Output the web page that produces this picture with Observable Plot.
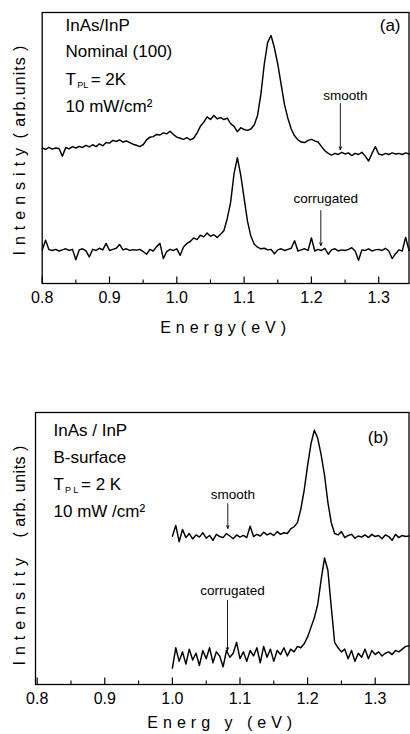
<!DOCTYPE html>
<html><head><meta charset="utf-8">
<script src="https://cdn.jsdelivr.net/npm/d3@7"></script>
<script src="https://cdn.jsdelivr.net/npm/@observablehq/plot@0.6"></script>
<style>
html,body{margin:0;padding:0;background:#fff;}
#chart{width:410px;height:734px;position:relative;overflow:hidden;}
#chart svg{display:block;}
</style></head><body><div id="chart"></div>
<script>
// ---------- data ----------
const energyA = [
0.800,0.805,0.810,0.815,0.820,0.825,0.830,0.835,0.840,0.845,
0.850,0.855,0.860,0.865,0.870,0.875,0.880,0.885,0.890,0.895,
0.900,0.905,0.910,0.915,0.920,0.925,0.930,0.935,0.940,0.945,
0.950,0.955,0.960,0.965,0.970,0.975,0.980,0.985,0.990,0.995,
1.000,1.005,1.010,1.015,1.020,1.025,1.030,1.035,1.040,1.045,
1.050,1.055,1.060,1.065,1.070,1.075,1.080,1.085,1.090,1.095,
1.100,1.105,1.110,1.115,1.120,1.125,1.130,1.135,1.140,1.145,
1.150,1.155,1.160,1.165,1.170,1.175,1.180,1.185,1.190,1.195,
1.200,1.205,1.210,1.215,1.220,1.225,1.230,1.235,1.240,1.245,
1.250,1.255,1.260,1.265,1.270,1.275,1.280,1.285,1.290,1.295,
1.300,1.305,1.310,1.315,1.320,1.325,1.330,1.335,1.340,1.345];
const smoothA = [
5.00,4.95,5.02,4.96,5.00,4.98,4.70,5.02,4.97,5.05,
5.00,5.06,5.02,5.10,5.04,5.12,5.05,5.15,5.08,5.20,
5.18,5.28,5.24,5.30,5.22,5.26,5.20,5.14,5.10,5.05,
5.12,5.30,5.40,5.42,5.50,5.48,5.56,5.52,5.62,5.50,
5.40,5.36,5.32,5.38,5.30,5.36,5.55,5.80,5.95,6.15,
6.05,6.20,6.08,6.12,6.05,6.10,5.90,5.80,5.60,5.75,
5.68,5.65,5.70,5.85,6.20,7.00,8.10,8.90,9.15,8.70,
8.10,7.35,6.60,6.10,5.70,5.45,5.30,5.22,5.20,5.28,
5.32,5.26,5.22,5.05,4.90,4.80,4.74,4.80,4.76,4.84,
4.78,4.82,4.72,4.80,4.76,4.84,4.70,4.52,4.80,5.05,
4.78,4.74,4.80,4.76,4.82,4.78,4.80,4.76,4.82,4.78];
const corrugatedA = [
1.24,1.60,1.25,1.22,1.26,1.20,1.24,1.28,1.22,1.26,
0.88,1.24,1.28,1.20,0.98,1.26,1.22,1.30,1.24,1.48,
1.22,1.26,1.30,1.44,1.24,1.28,1.22,1.25,1.23,1.26,
1.18,1.08,1.26,1.20,1.36,1.48,0.92,1.18,1.26,1.22,
1.28,1.04,1.35,1.48,1.55,1.68,1.62,1.78,1.72,1.86,
1.74,1.80,1.70,1.82,1.95,2.40,3.00,4.05,4.64,4.00,
3.15,2.30,1.75,1.45,1.34,1.28,1.30,1.24,1.26,1.10,
1.24,1.28,1.22,1.26,1.30,1.58,1.20,1.24,1.28,1.22,
1.68,1.20,1.26,1.22,1.30,1.08,1.24,1.28,1.20,1.24,
1.22,1.26,1.32,1.20,0.86,1.24,1.22,1.28,1.20,1.24,
1.26,1.22,1.30,1.20,0.92,1.10,1.24,1.20,1.70,1.22];

const energyB = [
1.000,1.005,1.010,1.015,1.020,1.025,1.030,1.035,1.040,1.045,
1.050,1.055,1.060,1.065,1.070,1.075,1.080,1.085,1.090,1.095,
1.100,1.105,1.110,1.115,1.120,1.125,1.130,1.135,1.140,1.145,
1.150,1.155,1.160,1.165,1.170,1.175,1.180,1.185,1.190,1.195,
1.200,1.205,1.210,1.215,1.220,1.225,1.230,1.235,1.240,1.245,
1.250,1.255,1.260,1.265,1.270,1.275,1.280,1.285,1.290,1.295,
1.300,1.305,1.310,1.315,1.320,1.325,1.330,1.335,1.340,1.345,
1.350];
const smoothB = [
5.45,5.85,5.25,5.70,5.40,5.55,5.35,5.50,5.42,5.58,
5.38,5.48,5.30,5.52,5.44,5.40,5.55,5.46,5.36,5.50,
5.42,5.48,5.40,5.82,5.44,5.52,5.46,5.60,5.50,5.56,
5.48,5.62,5.52,5.58,5.55,5.72,5.80,5.95,6.45,7.15,
8.05,8.85,9.35,9.05,8.45,7.70,6.70,5.95,5.55,5.50,
5.62,5.40,5.48,5.52,5.38,5.46,5.42,5.50,5.40,5.52,
5.44,5.48,5.36,5.50,5.44,5.30,5.52,5.40,5.48,5.44,
5.46];
const corrugatedB = [
0.60,1.35,0.85,1.20,0.75,1.30,0.90,1.15,0.70,1.25,
0.95,1.35,0.80,1.20,1.05,0.65,1.25,1.00,1.15,1.55,
0.95,1.20,0.85,1.25,1.05,1.35,0.80,1.40,1.00,1.30,
0.85,1.25,1.10,1.35,1.05,1.30,1.20,1.40,1.35,1.50,
1.75,2.10,2.45,2.95,3.85,4.65,4.20,2.85,1.55,1.35,
1.20,1.30,0.95,1.25,0.85,1.15,1.00,1.30,0.95,1.25,
1.10,1.20,1.05,1.15,1.20,1.10,1.25,1.20,1.30,1.40,
1.42];

const majorTicks = [0.8, 0.9, 1.0, 1.1, 1.2, 1.3];
const tickLabels = ["0.8", "0.9", "1.0", "1.1", "1.2", "1.3"];
const minorTicks = [0.85, 0.95, 1.05, 1.15, 1.25];

const annotLabels = ["smooth", "corrugated"];
const annotEnergyA = [1.243, 1.214];
const annotTextA = [6.94, 3.14];
const annotTailA = [6.64, 2.69];
const annotTipA = [4.94, 1.40];
const annotEnergyB = [1.082, 1.0815];
const annotTextB = [6.99, 3.46];
const annotTailB = [6.65, 3.09];
const annotTipB = [5.74, 1.25];

const infoA = ["InAs/InP", "Nominal (100)", "10 mW/cm\u00B2"];
const infoB = ["InAs / InP", "B-surface", "10 mW /cm\u00B2"];

// ---------- drawing ----------
const FONT = '"Liberation Sans", Arial, Helvetica, sans-serif';

function spacing(svg, txt, ls) {
  d3.select(svg).selectAll("text")
    .filter(function () { return this.textContent === txt; })
    .attr("letter-spacing", ls);
}

function panel(cfg) {
  const rows = cfg.energy.map((e, i) => ({e, s: cfg.smooth[i], c: cfg.corr[i]}));
  const ann = annotLabels.map((l, i) => ({l, e: cfg.aE[i], t: cfg.aT[i], y1: cfg.aTail[i], y2: cfg.aTip[i]}));
  const ml = cfg.ml, mt = cfg.mt;
  const infoText = (t, dx, dy, size) => Plot.text([t], {frameAnchor: "top-left", textAnchor: "start", lineAnchor: "middle", dx, dy, fontSize: size, fill: "black"});
  const svg = Plot.plot({
    width: 410, height: cfg.height,
    marginLeft: ml, marginRight: 1.5, marginTop: mt, marginBottom: cfg.mb,
    x: {domain: cfg.xDomain, axis: null},
    y: {domain: [0, 10], axis: null},
    style: {fontFamily: FONT, background: "white", color: "black"},
    marks: [
      Plot.line(rows, {x: "e", y: "s", stroke: "black", strokeWidth: 1.45}),
      Plot.line(rows, {x: "e", y: "c", stroke: "black", strokeWidth: 1.45}),
      Plot.frame({stroke: "black", strokeWidth: 1.3}),
      Plot.ruleX(majorTicks, {x: d => d, y1: 0, y2: 0.24, stroke: "black", strokeWidth: 1.2}),
      Plot.ruleX(minorTicks, {x: d => d, y1: 0, y2: 0.13, stroke: "black", strokeWidth: 1.1}),
      Plot.axisX({ticks: majorTicks, tickSize: 0, tickPadding: 8, fontSize: 16, label: null,
                  tickFormat: d => tickLabels[majorTicks.indexOf(d)]}),
      Plot.arrow(ann, {x1: "e", x2: "e", y1: "y1", y2: "y2", stroke: "black", strokeWidth: 0.9, headLength: 5, headAngle: 45}),
      Plot.text(ann, {x: "e", y: "t", text: "l", dx: 5, fontSize: 13.5, fill: "black"}),
      infoText(cfg.info[0], cfg.tx, cfg.rows[0], 17),
      infoText(cfg.info[1], cfg.tx, cfg.rows[1], 17),
      infoText("T", cfg.tx, cfg.rows[2], 17),
      infoText(cfg.sub, cfg.subDx, cfg.rows[2] + 6, 9),
      infoText(cfg.eq, cfg.eqDx, cfg.rows[2], 17),
      infoText(cfg.info[2], cfg.tx, cfg.rows[3], 17),
      Plot.text([cfg.tag], {frameAnchor: "top-right", textAnchor: "end", lineAnchor: "middle", dx: cfg.tagDx, dy: cfg.tagDy, fontSize: 17, fill: "black"}),
      Plot.text(["Intensity"], {frameAnchor: "bottom-left", rotate: -90, textAnchor: "start", lineAnchor: "middle", dx: 19 - ml, dy: cfg.yl1, fontSize: 16, fill: "black"}),
      Plot.text([cfg.units], {frameAnchor: "bottom-left", rotate: -90, textAnchor: "start", lineAnchor: "middle", dx: 19 - ml, dy: cfg.yl2, fontSize: 16, fill: "black"}),
      Plot.text([cfg.xlabel], {frameAnchor: "bottom", textAnchor: "middle", lineAnchor: "middle", dy: cfg.xlDy, fontSize: 16, fill: "black"})
    ]
  });
  spacing(svg, "Intensity", "6px");
  spacing(svg, cfg.units, cfg.unitsLs);
  spacing(svg, cfg.xlabel, "5px");
  return svg;
}

const chart = document.getElementById("chart");
chart.appendChild(panel({
  energy: energyA, smooth: smoothA, corr: corrugatedA,
  aE: annotEnergyA, aT: annotTextA, aTail: annotTailA, aTip: annotTipA,
  height: 340, ml: 41.7, mt: 12, mb: 57, xDomain: [0.8, 1.345],
  info: infoA, tx: 23.3, rows: [13, 39, 67, 94],
  sub: "PL", subDx: 35, eq: "= 2K", eqDx: 48.5,
  tag: "(a)", tagDx: -8.5, tagDy: 13,
  units: "( arb.units )", unitsLs: "1px", yl1: -28, yl2: -145,
  xlabel: "Energy(eV)", xlDy: 44
}));
chart.appendChild(panel({
  energy: energyB, smooth: smoothB, corr: corrugatedB,
  aE: annotEnergyB, aT: annotTextB, aTail: annotTailB, aTip: annotTipB,
  height: 394, ml: 35, mt: 72, mb: 50, xDomain: [0.7975, 1.35],
  info: infoB, tx: 18, rows: [18, 45, 72, 99],
  sub: "P L", subDx: 29.5, eq: "= 2 K", eqDx: 45.5,
  tag: "(b)", tagDx: -20.5, tagDy: 25,
  units: "( arb. units )", unitsLs: "0.5px", yl1: -19, yl2: -147,
  xlabel: "Energ y (eV)", xlDy: 38
}));
</script>
</body></html>
